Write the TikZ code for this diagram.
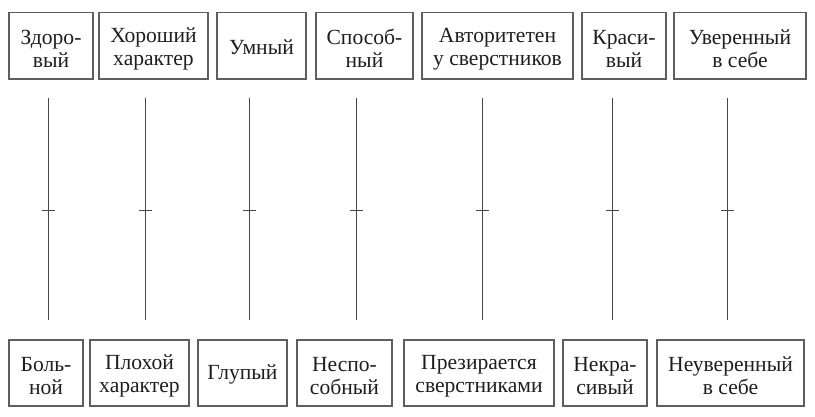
\documentclass[tikz,border=0pt]{standalone}
\usepackage{fontspec}
\setmainfont{Liberation Serif}
\definecolor{ink}{RGB}{30,30,30}
\definecolor{frame}{RGB}{95,95,95}
\definecolor{axis}{RGB}{70,70,70}
\begin{document}
\begin{tikzpicture}[x=1pt,y=-1pt,
  bx/.style={draw=frame,line width=1.1pt,inner sep=0pt,outer sep=0pt},
  topbox/.style={bx,minimum height=66.5pt},
  botbox/.style={bx,minimum height=66pt},
  txt/.style={inner sep=0pt,align=center,text=ink,font=\fontsize{21.6}{23}\selectfont},
  axisline/.style={draw=axis,line width=1pt},
  tickmark/.style={draw=axis,line width=1pt}]
\useasboundingbox (0,0) rectangle (815,417);
% top boxes
\node[topbox,minimum width=84pt]  (t1) at (51,45.75)   {};
\node[topbox,minimum width=109pt] (t2) at (153.5,45.75){};
\node[topbox,minimum width=89pt]  (t3) at (261.5,45.75){};
\node[topbox,minimum width=97pt]  (t4) at (364.5,45.75){};
\node[topbox,minimum width=151pt] (t5) at (497.5,45.75){};
\node[topbox,minimum width=84pt]  (t6) at (624,45.75)  {};
\node[topbox,minimum width=132pt] (t7) at (740,45.75)  {};
\node[txt] (t1x) at ([yshift=-3pt]t1.center) {Здоро-\\вый};
\node[txt] (t2x) at ([yshift=-3pt]t2.center) {Хороший\\характер};
\node[txt] (t3x) at ([yshift=-1pt]t3.center) {Умный};
\node[txt] (t4x) at ([yshift=-3pt]t4.center) {Способ-\\ный};
\node[txt] (t5x) at ([yshift=-3pt]t5.center) {Авторитетен\\у сверстников};
\node[txt] (t6x) at ([yshift=-3pt]t6.center) {Краси-\\вый};
\node[txt] (t7x) at ([yshift=-3pt]t7.center) {Уверенный\\в себе};
% bottom boxes
\node[botbox,minimum width=74pt]  (b1) at (46,373)   {};
\node[botbox,minimum width=99pt]  (b2) at (139.5,373){};
\node[botbox,minimum width=89pt]  (b3) at (242.5,373){};
\node[botbox,minimum width=95pt]  (b4) at (344.5,373){};
\node[botbox,minimum width=150pt] (b5) at (479,373)  {};
\node[botbox,minimum width=84pt]  (b6) at (605,373)  {};
\node[botbox,minimum width=147pt] (b7) at (730.5,373){};
\node[txt] (b1x) at ([yshift=-3pt]b1.center) {Боль-\\ной};
\node[txt] (b2x) at ([yshift=-3pt]b2.center) {Плохой\\характер};
\node[txt] (b3x) at ([yshift=-1pt]b3.center) {Глупый};
\node[txt] (b4x) at ([yshift=-3pt]b4.center) {Неспо-\\собный};
\node[txt] (b5x) at ([yshift=-3pt]b5.center) {Презирается\\сверстниками};
\node[txt] (b6x) at ([yshift=-3pt]b6.center) {Некра-\\сивый};
\node[txt] (b7x) at ([yshift=-3pt]b7.center) {Неуверенный\\в себе};
% scales
\foreach \i/\x in {1/48,2/145,3/249,4/356,5/482,6/612,7/727}{
  \coordinate (u\i) at (\x,98.5);
  \coordinate (m\i) at (\x,210.5);
  \coordinate (d\i) at (\x,320);
  \draw[axisline] (u\i) -- (d\i);
  \draw[tickmark] ([xshift=-6.5pt]m\i) -- ([xshift=6.5pt]m\i);
}
\end{tikzpicture}
\end{document}
